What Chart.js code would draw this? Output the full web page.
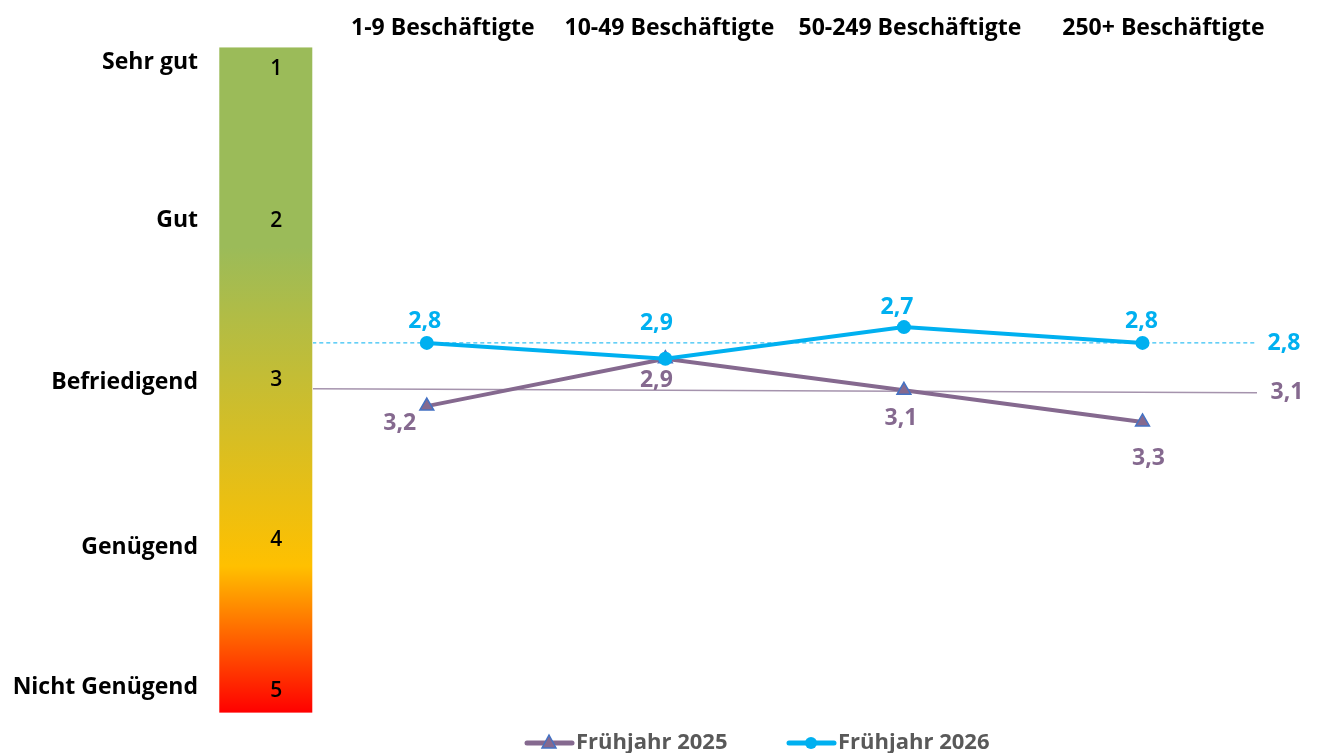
<!DOCTYPE html>
<html>
<head>
<meta charset="utf-8">
<script src="https://cdn.jsdelivr.net/npm/chart.js@4.4.0/dist/chart.umd.min.js"></script>
<style>
  html, body { margin: 0; padding: 0; background: #fff; }
  #wrap { width: 1319px; height: 753px; }
</style>
</head>
<body>
<div id="wrap"><canvas id="line-chart" width="1319" height="753"></canvas></div>
<script>
const categories = ["1-9 Beschäftigte", "10-49 Beschäftigte", "50-249 Beschäftigte", "250+ Beschäftigte"];
const spring2025 = [3.2, 2.9, 3.1, 3.3];
const spring2026 = [2.8, 2.9, 2.7, 2.8];
const seriesNames = ["Frühjahr 2025", "Frühjahr 2026"];
const avg2025 = [3.09, 3.115];
const avg2026 = [2.8, 2.8];
const avgLabels = ["3,1", "2,8"];
const refSpan = [-0.48, 3.48];
const gradeValues = [1, 2, 3, 4, 5];
const gradeNames = ["Sehr gut", "Gut", "Befriedigend", "Genügend", "Nicht Genügend"];

const PURPLE = "#85698F";
const CYAN = "#00B0F0";
const FONT = "'Open Sans', sans-serif";

const fmt = v => v.toFixed(1).replace(".", ",");

// small nudges so the texts sit where the original has them
const nameNudge = [4, 4, 8, 15, -3];
const numNudge = [11, 5, 6, 8, 1];
const titleNudge = [16, 4, 6, 21];
const purpleOff = [[-27, 17], [-9, 22], [-3, 28], [6, 37]];
const cyanOff = [[-2, -21], [-9, -35], [-7, -20], [-1, -21]];

const scenery = {
    id: 'scenery',
    beforeDatasetsDraw(chart) {
        const {ctx} = chart;
        const x = chart.scales.x, y = chart.scales.y;
        // grade bar
        const top = y.getPixelForValue(0.93), bottom = y.getPixelForValue(5.14);
        const left = x.getPixelForValue(-0.48) - 93, right = x.getPixelForValue(-0.48);
        const g = ctx.createLinearGradient(0, top, 0, bottom);
        g.addColorStop(0, "#9BBB59");
        g.addColorStop(0.3, "#9BBB59");
        g.addColorStop(0.78, "#FFC000");
        g.addColorStop(1, "#FF0000");
        ctx.save();
        ctx.fillStyle = g;
        ctx.fillRect(left, top, right - left, bottom - top);
        ctx.textBaseline = "middle";
        ctx.fillStyle = "#000";
        gradeValues.forEach((v, i) => {
            const py = y.getPixelForValue(v);
            ctx.font = "600 21px " + FONT;
            ctx.textAlign = "center";
            ctx.fillText(String(v), left + 57, py + numNudge[i]);
            ctx.font = "bold 23px " + FONT;
            ctx.textAlign = "right";
            ctx.fillText(gradeNames[i], 198, py + nameNudge[i]);
        });
        // category titles
        ctx.font = "bold 23px " + FONT;
        ctx.textAlign = "center";
        categories.forEach((c, i) => {
            ctx.fillText(c, x.getPixelForValue(i) + titleNudge[i], 28);
        });
        ctx.restore();
    },
    afterDatasetsDraw(chart) {
        const {ctx} = chart;
        const x = chart.scales.x, y = chart.scales.y;
        ctx.save();
        ctx.font = "bold 23px " + FONT;
        ctx.textAlign = "center";
        ctx.textBaseline = "middle";
        ctx.fillStyle = PURPLE;
        spring2025.forEach((v, i) => {
            ctx.fillText(fmt(v), x.getPixelForValue(i) + purpleOff[i][0], y.getPixelForValue(v) + purpleOff[i][1]);
        });
        ctx.fillStyle = CYAN;
        spring2026.forEach((v, i) => {
            ctx.fillText(fmt(v), x.getPixelForValue(i) + cyanOff[i][0], y.getPixelForValue(v) + cyanOff[i][1]);
        });
        // average labels
        ctx.fillStyle = PURPLE;
        ctx.fillText(avgLabels[0], x.getPixelForValue(refSpan[1]) + 30, y.getPixelForValue(avg2025[1]));
        ctx.fillStyle = CYAN;
        ctx.fillText(avgLabels[1], x.getPixelForValue(refSpan[1]) + 27, y.getPixelForValue(avg2026[1]) + 1);
        // legend
        const ly = 743;
        const items = [[527, PURPLE, 'triangle'], [789, CYAN, 'circle']];
        ctx.textAlign = "left";
        ctx.font = "bold 22px " + FONT;
        items.forEach(([lx, col, shape], i) => {
            ctx.strokeStyle = col;
            ctx.lineWidth = 5;
            ctx.lineCap = "round";
            ctx.beginPath();
            ctx.moveTo(lx, ly);
            ctx.lineTo(lx + 45, ly);
            ctx.stroke();
            ctx.fillStyle = col;
            ctx.beginPath();
            if (shape === 'circle') {
                ctx.arc(lx + 22, ly, 6, 0, Math.PI * 2);
                ctx.fill();
            } else {
                ctx.moveTo(lx + 22, ly - 8);
                ctx.lineTo(lx + 29, ly + 5);
                ctx.lineTo(lx + 15, ly + 5);
                ctx.closePath();
                ctx.fill();
                ctx.strokeStyle = "#4472C4";
                ctx.lineWidth = 1.5;
                ctx.stroke();
            }
            ctx.fillStyle = "#595959";
            ctx.fillText(seriesNames[i], lx + 49, ly);
        });
        ctx.restore();
    }
};

new Chart(document.getElementById("line-chart"), {
    type: 'line',
    data: {
        datasets: [{
            label: "avg 2025",
            data: refSpan.map((xv, i) => ({x: xv, y: avg2025[i]})),
            borderColor: "#A593AD",
            borderWidth: 1.5,
            pointRadius: 0,
            order: 4
        }, {
            label: "avg 2026",
            data: refSpan.map((xv, i) => ({x: xv, y: avg2026[i]})),
            borderColor: CYAN,
            borderWidth: 1,
            borderDash: [4, 3],
            pointRadius: 0,
            order: 3
        }, {
            label: seriesNames[0],
            data: spring2025.map((v, i) => ({x: i, y: v})),
            borderColor: PURPLE,
            backgroundColor: PURPLE,
            borderWidth: 4,
            pointStyle: 'triangle',
            pointRadius: 8,
            pointBorderColor: "#4472C4",
            pointBorderWidth: 1.5,
            pointBackgroundColor: PURPLE,
            order: 2
        }, {
            label: seriesNames[1],
            data: spring2026.map((v, i) => ({x: i, y: v})),
            borderColor: CYAN,
            backgroundColor: CYAN,
            borderWidth: 4,
            pointStyle: 'circle',
            pointRadius: 7,
            pointBorderWidth: 0,
            order: 1
        }]
    },
    options: {
        responsive: false,
        animation: false,
        layout: {padding: {left: 313, right: 8, top: 42.7, bottom: 30.9}},
        scales: {
            x: {type: 'linear', min: -0.477, max: 3.7, display: false},
            y: {type: 'linear', min: 0.9, max: 5.2, reverse: true, display: false}
        },
        plugins: {
            legend: {display: false},
            tooltip: {enabled: false}
        }
    },
    plugins: [scenery]
});
</script>
</body>
</html>
